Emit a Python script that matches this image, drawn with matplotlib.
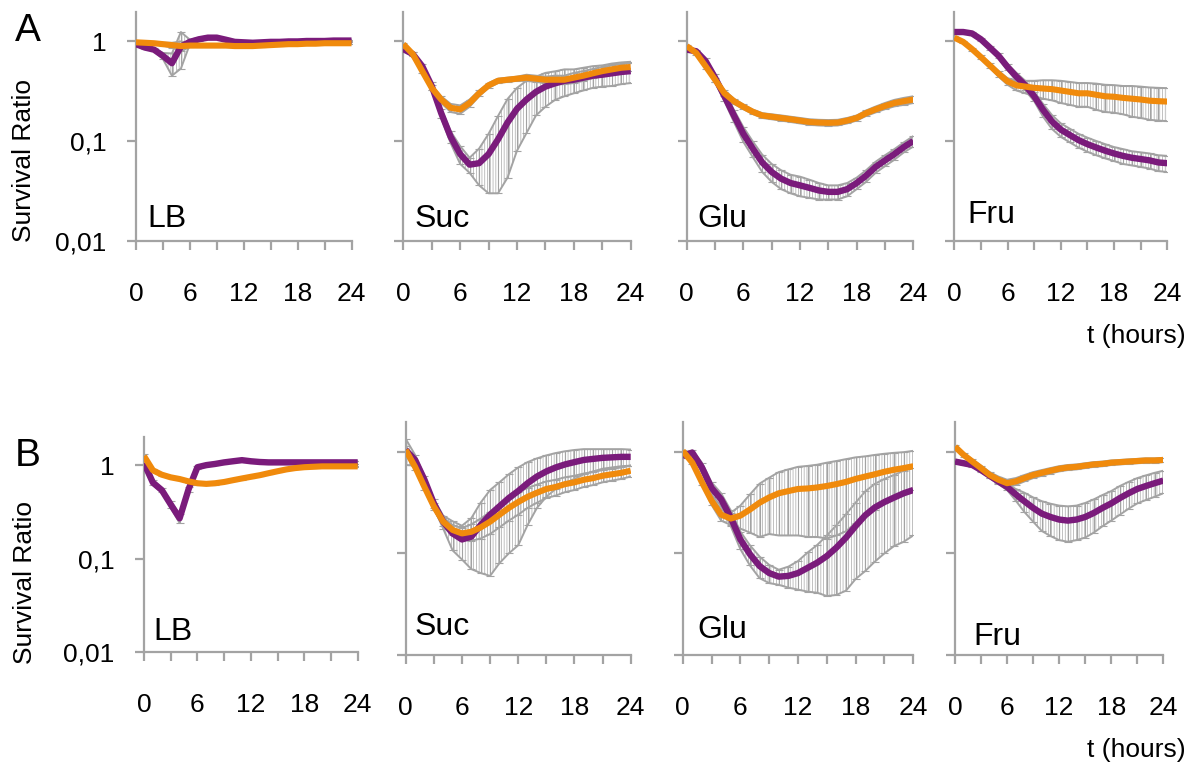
import matplotlib
matplotlib.use('Agg')
import matplotlib.pyplot as plt
import numpy as np
from matplotlib.ticker import FixedLocator, NullLocator

plt.rcParams['font.family'] = ['Liberation Sans', 'DejaVu Sans']
plt.rcParams['hatch.linewidth'] = 0.55

W, H = 1204, 765

hours = list(range(25))

# ---- row A ----
lbA_p = [0.93, 0.86, 0.82, 0.71, 0.60, 0.88, 0.98, 1.04, 1.08, 1.08, 1.03, 0.98, 0.97,
         0.96, 0.97, 0.98, 0.98, 0.99, 0.99, 1.00, 1.00, 1.00, 1.01, 1.01, 1.01]
lbA_p_err = [0.03, 0.03, 0.03, 0.05, 0.15, 0.35, 0.05, 0.04, 0.04, 0.03, 0.03, 0.02, 0.02,
             0.02, 0.02, 0.02, 0.02, 0.02, 0.02, 0.02, 0.02, 0.02, 0.02, 0.02, 0.02]
lbA_o = [0.97, 0.96, 0.95, 0.93, 0.91, 0.89, 0.90, 0.90, 0.90, 0.90, 0.90, 0.89, 0.89,
         0.89, 0.90, 0.91, 0.92, 0.93, 0.93, 0.94, 0.94, 0.95, 0.95, 0.95, 0.95]
lbA_o_err = [0.02, 0.02, 0.02, 0.03, 0.05, 0.10, 0.03, 0.02, 0.02, 0.02, 0.02, 0.02, 0.02,
             0.02, 0.02, 0.02, 0.02, 0.02, 0.02, 0.02, 0.02, 0.02, 0.02, 0.02, 0.02]

sucA_p = [0.83, 0.74, 0.56, 0.355, 0.19, 0.11, 0.074, 0.058, 0.06, 0.074, 0.104, 0.153, 0.21,
          0.26, 0.31, 0.35, 0.377, 0.40, 0.41, 0.43, 0.45, 0.46, 0.475, 0.49, 0.50]
sucA_p_err = [0.03, 0.03, 0.03, 0.03, 0.02, 0.015, 0.015, 0.01, 0.024, 0.044, 0.074, 0.11, 0.13,
              0.14, 0.13, 0.13, 0.12, 0.12, 0.11, 0.11, 0.11, 0.11, 0.12, 0.12, 0.12]
sucA_o = [0.93, 0.74, 0.50, 0.34, 0.26, 0.215, 0.207, 0.24, 0.30, 0.36, 0.40, 0.41, 0.42,
          0.43, 0.42, 0.41, 0.41, 0.41, 0.43, 0.45, 0.475, 0.50, 0.52, 0.54, 0.55]
sucA_o_err = [0.03, 0.03, 0.02, 0.02, 0.02, 0.02, 0.02, 0.02, 0.02, 0.02, 0.02, 0.02, 0.02,
              0.03, 0.03, 0.03, 0.04, 0.04, 0.05, 0.05, 0.05, 0.05, 0.05, 0.05, 0.05]

gluA_p = [0.82, 0.79, 0.63, 0.43, 0.28, 0.18, 0.118, 0.084, 0.061, 0.049, 0.042, 0.038, 0.036,
          0.034, 0.032, 0.031, 0.031, 0.033, 0.038, 0.045, 0.055, 0.064, 0.074, 0.087, 0.10]
gluA_p_err = [0.03, 0.03, 0.04, 0.04, 0.03, 0.025, 0.02, 0.015, 0.012, 0.01, 0.009, 0.008, 0.008,
              0.007, 0.006, 0.005, 0.005, 0.005, 0.005, 0.006, 0.007, 0.008, 0.009, 0.01, 0.012]
gluA_o = [0.89, 0.76, 0.56, 0.41, 0.30, 0.25, 0.22, 0.196, 0.18, 0.175, 0.17, 0.165, 0.16,
          0.155, 0.153, 0.152, 0.153, 0.16, 0.17, 0.19, 0.207, 0.224, 0.24, 0.25, 0.26]
gluA_o_err = [0.03, 0.03, 0.03, 0.02, 0.02, 0.015, 0.012, 0.01, 0.01, 0.01, 0.01, 0.01, 0.01,
              0.01, 0.01, 0.01, 0.01, 0.01, 0.01, 0.012, 0.014, 0.016, 0.018, 0.02, 0.02]

fruA_p = [1.23, 1.23, 1.19, 1.04, 0.86, 0.71, 0.55, 0.44, 0.36, 0.28, 0.205, 0.157, 0.13,
          0.115, 0.102, 0.093, 0.086, 0.08, 0.075, 0.071, 0.068, 0.066, 0.064, 0.061, 0.06]
fruA_p_err = [0.04, 0.04, 0.04, 0.04, 0.04, 0.04, 0.04, 0.04, 0.04, 0.03, 0.03, 0.025, 0.02,
              0.018, 0.016, 0.015, 0.014, 0.013, 0.012, 0.012, 0.011, 0.011, 0.011, 0.011, 0.011]
fruA_o = [1.08, 0.98, 0.83, 0.69, 0.57, 0.47, 0.395, 0.36, 0.35, 0.34, 0.335, 0.33, 0.32,
          0.31, 0.30, 0.30, 0.29, 0.28, 0.277, 0.27, 0.265, 0.26, 0.253, 0.25, 0.248]
fruA_o_err = [0.03, 0.03, 0.03, 0.03, 0.03, 0.03, 0.03, 0.04, 0.05, 0.06, 0.07, 0.075, 0.08,
              0.08, 0.08, 0.08, 0.085, 0.085, 0.085, 0.085, 0.09, 0.09, 0.09, 0.09, 0.09]

# ---- row B ----
lbB_p = [1.05, 0.65, 0.54, 0.38, 0.27, 0.55, 0.95, 1.00, 1.03, 1.07, 1.10, 1.13, 1.10,
         1.08, 1.07, 1.07, 1.07, 1.07, 1.07, 1.07, 1.07, 1.07, 1.07, 1.07, 1.07]
lbB_p_err = [0.04, 0.04, 0.03, 0.03, 0.03, 0.03, 0.03, 0.03, 0.03, 0.03, 0.03, 0.03, 0.03,
             0.03, 0.03, 0.03, 0.03, 0.03, 0.03, 0.03, 0.03, 0.03, 0.03, 0.03, 0.03]
lbB_o = [1.25, 0.88, 0.79, 0.74, 0.71, 0.67, 0.64, 0.63, 0.64, 0.66, 0.69, 0.72, 0.75,
         0.78, 0.82, 0.86, 0.90, 0.93, 0.95, 0.96, 0.97, 0.97, 0.97, 0.97, 0.97]
lbB_o_err = [0.05, 0.03, 0.02, 0.02, 0.02, 0.02, 0.02, 0.02, 0.02, 0.02, 0.02, 0.02, 0.02,
             0.02, 0.02, 0.02, 0.02, 0.02, 0.02, 0.02, 0.02, 0.02, 0.02, 0.02, 0.02]

sucB_p = [1.04, 0.83, 0.53, 0.31, 0.205, 0.157, 0.137, 0.146, 0.19, 0.24, 0.29, 0.35, 0.41,
          0.49, 0.57, 0.64, 0.70, 0.75, 0.79, 0.83, 0.85, 0.87, 0.88, 0.89, 0.89]
sucB_p_err = [0.30, 0.10, 0.05, 0.03, 0.03, 0.05, 0.05, 0.076, 0.126, 0.18, 0.21, 0.25, 0.29,
              0.30, 0.29, 0.28, 0.27, 0.26, 0.25, 0.23, 0.21, 0.19, 0.18, 0.17, 0.16]
sucB_o = [1.04, 0.71, 0.45, 0.29, 0.205, 0.17, 0.157, 0.163, 0.18, 0.205, 0.24, 0.28, 0.32,
          0.36, 0.395, 0.43, 0.45, 0.48, 0.50, 0.53, 0.55, 0.58, 0.60, 0.62, 0.65]
sucB_o_err = [0.10, 0.05, 0.03, 0.02, 0.02, 0.02, 0.02, 0.03, 0.04, 0.05, 0.06, 0.07, 0.08,
              0.08, 0.08, 0.08, 0.08, 0.08, 0.08, 0.08, 0.08, 0.08, 0.08, 0.08, 0.08]

gluB_p = [0.91, 0.98, 0.70, 0.44, 0.34, 0.225, 0.137, 0.098, 0.075, 0.064, 0.059, 0.06, 0.064,
          0.072, 0.081, 0.094, 0.114, 0.143, 0.186, 0.237, 0.283, 0.32, 0.354, 0.39, 0.42]
gluB_p_err = [0.05, 0.05, 0.08, 0.06, 0.05, 0.04, 0.027, 0.022, 0.018, 0.013, 0.01, 0.014, 0.02,
              0.03, 0.04, 0.056, 0.075, 0.10, 0.13, 0.17, 0.20, 0.22, 0.236, 0.26, 0.27]
gluB_o = [1.02, 0.78, 0.50, 0.33, 0.24, 0.22, 0.235, 0.27, 0.315, 0.355, 0.39, 0.41, 0.43,
          0.435, 0.445, 0.46, 0.48, 0.505, 0.54, 0.57, 0.60, 0.635, 0.665, 0.69, 0.72]
gluB_o_err = [0.03, 0.03, 0.03, 0.03, 0.03, 0.03, 0.06, 0.11, 0.17, 0.20, 0.24, 0.26, 0.28,
              0.29, 0.30, 0.32, 0.33, 0.34, 0.34, 0.33, 0.33, 0.32, 0.31, 0.30, 0.30]

fruB_p = [0.80, 0.77, 0.74, 0.66, 0.58, 0.51, 0.45, 0.38, 0.325, 0.28, 0.246, 0.228, 0.215,
          0.21, 0.215, 0.228, 0.25, 0.28, 0.31, 0.35, 0.39, 0.43, 0.46, 0.49, 0.52]
fruB_p_err = [0.03, 0.03, 0.03, 0.03, 0.03, 0.03, 0.03, 0.05, 0.07, 0.075, 0.08, 0.08, 0.08,
              0.08, 0.08, 0.085, 0.09, 0.095, 0.10, 0.11, 0.115, 0.12, 0.125, 0.13, 0.13]
fruB_o = [1.12, 0.93, 0.80, 0.69, 0.59, 0.53, 0.49, 0.51, 0.55, 0.59, 0.62, 0.65, 0.68,
          0.70, 0.71, 0.73, 0.75, 0.76, 0.78, 0.79, 0.80, 0.81, 0.82, 0.82, 0.83]
fruB_o_err = [0.04, 0.04, 0.04, 0.04, 0.04, 0.04, 0.04, 0.04, 0.04, 0.04, 0.04, 0.04, 0.04,
              0.04, 0.04, 0.04, 0.04, 0.04, 0.04, 0.04, 0.04, 0.04, 0.04, 0.04, 0.04]

media = ['LB', 'Suc', 'Glu', 'Fru']
y_ticks = [0.01, 0.1, 1]
y_ticklabels = ['0,01', '0,1', '1']
x_major = [0, 6, 12, 18, 24]
x_minor = [3, 9, 15, 21]

PURPLE = '#7a1b7b'
ORANGE = '#f08a0c'
GREY = '#a3a3a3'


def box(x0, x1, ytop, ybot):
    # pixel box -> figure fraction
    return [x0 / W, 1 - ybot / H, (x1 - x0) / W, (ybot - ytop) / H]


def err_band(ax, y, e):
    # Excel-style dense error bars: hatched band + cap outlines + real bars
    y = np.array(y)
    e = np.array(e)
    lo, hi = y - e, y + e
    ax.fill_between(hours, lo, hi, facecolor='none', edgecolor='#b0b0b0',
                    hatch='|' * 6, linewidth=0, zorder=1)
    ax.plot(hours, lo, color=GREY, lw=1.4, zorder=1)
    ax.plot(hours, hi, color=GREY, lw=1.4, zorder=1)
    ax.errorbar(hours, y, yerr=e, fmt='none', ecolor=GREY, elinewidth=0.8,
                capsize=3, capthick=0.8, zorder=1)


# (axes box, ytop limit, label position, purple, purple err, orange, orange err)
panels = [
    (box(136, 351.5, 12, 241), 1.95, (147, 227), lbA_p, lbA_p_err, lbA_o, lbA_o_err),
    (box(403.3, 630.7, 12, 241), 1.95, (415, 227), sucA_p, sucA_p_err, sucA_o, sucA_o_err),
    (box(686.7, 913.3, 12, 241), 1.95, (697, 227), gluA_p, gluA_p_err, gluA_o, gluA_o_err),
    (box(954.3, 1167.3, 12, 241), 1.95, (967, 223), fruA_p, fruA_p_err, fruA_o, fruA_o_err),
    (box(144, 357.7, 437, 652), 2.0, (153, 640), lbB_p, lbB_p_err, lbB_o, lbB_o_err),
    (box(405.7, 630.7, 422, 655), 1.96, (415, 635), sucB_p, sucB_p_err, sucB_o, sucB_o_err),
    (box(682.7, 913.3, 422, 655), 1.96, (697, 638), gluB_p, gluB_p_err, gluB_o, gluB_o_err),
    (box(955, 1163.3, 422, 655), 1.96, (973, 645), fruB_p, fruB_p_err, fruB_o, fruB_o_err),
]

fig = plt.figure(figsize=(W / 100, H / 100), dpi=100)

for i, (pos, ytop, lab, p, pe, o, oe) in enumerate(panels):
    ax = fig.add_axes(pos)
    ax.set_yscale('log')
    err_band(ax, p, pe)
    err_band(ax, o, oe)
    ax.plot(hours, p, color=PURPLE, lw=4.6, solid_capstyle='butt', zorder=3)
    ax.plot(hours, o, color=ORANGE, lw=4.4, solid_capstyle='butt', zorder=4)
    ax.set_xlim(0, 24)
    ax.set_ylim(0.01, ytop)

    for s in ['top', 'right']:
        ax.spines[s].set_visible(False)
    for s in ['left', 'bottom']:
        ax.spines[s].set_color(GREY)
        ax.spines[s].set_linewidth(1.6)

    ax.yaxis.set_major_locator(FixedLocator(y_ticks))
    ax.yaxis.set_minor_locator(NullLocator())
    if i % 4 == 0:
        ax.set_yticklabels(y_ticklabels)
    else:
        ax.set_yticklabels([])
    ax.set_xticks(x_major)
    ax.set_xticks(x_minor, minor=True)
    ax.tick_params(axis='both', which='both', direction='out', color=GREY,
                   width=1.6, length=6.5, labelsize=19)
    ax.tick_params(axis='x', which='major', pad=23)
    ax.tick_params(axis='y', which='major', pad=15)

    fig.text(lab[0] / W, 1 - lab[1] / H, media[i % 4], fontsize=23,
             ha='left', va='baseline')

fig.text(15 / W, 1 - 31 / H, 'A', fontsize=28, ha='left', va='center')
fig.text(15 / W, 1 - 456 / H, 'B', fontsize=28, ha='left', va='center')
fig.text(24 / W, 1 - 161 / H, 'Survival Ratio', fontsize=19, rotation=90,
         ha='center', va='center')
fig.text(25 / W, 1 - 583 / H, 'Survival Ratio', fontsize=19, rotation=90,
         ha='center', va='center')
fig.text(1186 / W, 1 - 343 / H, 't (hours)', fontsize=19, ha='right', va='baseline')
fig.text(1186 / W, 1 - 757 / H, 't (hours)', fontsize=19, ha='right', va='baseline')

fig.savefig('out.png', dpi=100)
